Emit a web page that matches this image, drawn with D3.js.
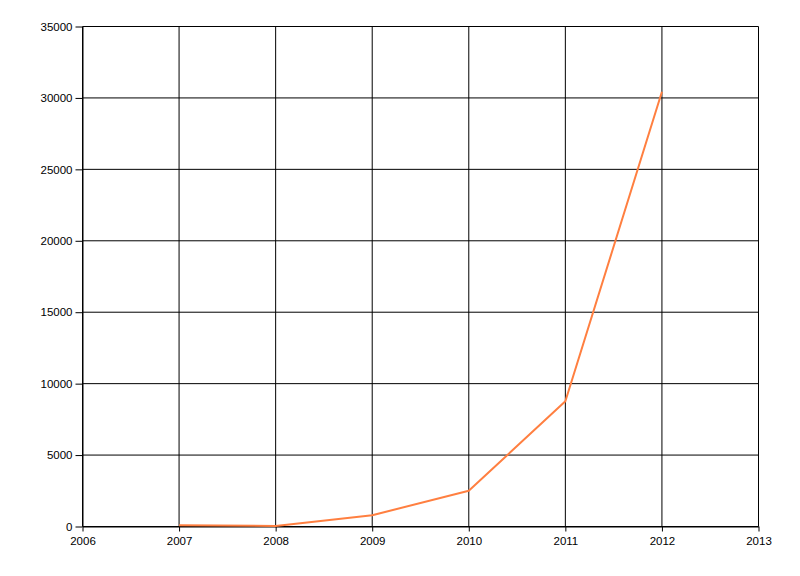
<!DOCTYPE html>
<html><head><meta charset="utf-8">
<script src="https://cdn.jsdelivr.net/npm/d3@7"></script>
<style>body{margin:0;background:#fff}svg{display:block}text{font-family:"Liberation Sans",Arial,sans-serif;font-size:11px;fill:#000}</style>
</head><body><svg id="c" width="800" height="576"></svg>
<script>
const years = [2007, 2008, 2009, 2010, 2011, 2012];
const values = [90, 40, 790, 2500, 8770, 30430];
const xTicks = [2006, 2007, 2008, 2009, 2010, 2011, 2012, 2013];
const yTicks = [0, 5000, 10000, 15000, 20000, 25000, 30000, 35000];

const svg = d3.select("#c");
const m = {l: 82.5, r: 758.5, t: 26.5, b: 526.5};
const x = d3.scaleLinear().domain([2006, 2013]).range([m.l, m.r]);
const y = d3.scaleLinear().domain([0, 35000]).range([m.b, m.t]);

// grid
svg.append("g").selectAll("line").data(xTicks).join("line")
  .attr("x1", d => x(d)).attr("x2", d => x(d)).attr("y1", m.t).attr("y2", m.b)
  .attr("stroke", "#000").attr("stroke-width", 1);
svg.append("g").selectAll("line").data(yTicks).join("line")
  .attr("y1", d => y(d)).attr("y2", d => y(d)).attr("x1", m.l).attr("x2", m.r)
  .attr("stroke", "#000").attr("stroke-width", 1);

// axes
const ya = svg.append("g").attr("transform", `translate(${m.l},0)`)
  .call(d3.axisLeft(y).tickValues(yTicks).tickSize(7).tickSizeOuter(0).tickPadding(3).tickFormat(d3.format("d")));
const xa = svg.append("g").attr("transform", `translate(0,${m.b})`)
  .call(d3.axisBottom(x).tickValues(xTicks).tickSize(5).tickSizeOuter(0).tickPadding(5).tickFormat(d3.format("d")));
[ya, xa].forEach(a => {
  a.select(".domain").attr("stroke", "#000");
  a.selectAll(".tick line").attr("stroke", "#000");
  a.selectAll("text").attr("fill", "#000").style("font-family", '"Liberation Sans",Arial,sans-serif').style("font-size", "11.5px");
});

// line
const line = d3.line().x((d, i) => x(years[i])).y(d => y(d));
svg.append("path").datum(values).attr("d", line)
  .attr("fill", "none").attr("stroke", "#ff7f40").attr("stroke-width", 2).attr("stroke-linejoin", "round");
</script></body></html>
